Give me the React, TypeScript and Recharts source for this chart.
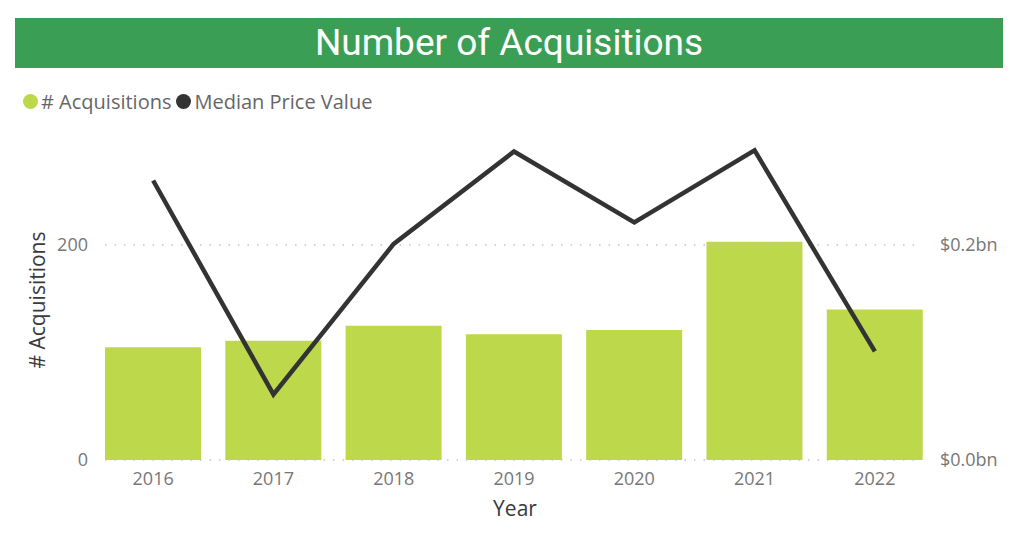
import React from "react";
import { ComposedChart, Bar, Line, XAxis, YAxis, ReferenceLine } from "recharts";

const years = ["2016", "2017", "2018", "2019", "2020", "2021", "2022"];
const acquisitions = [105, 111, 125, 117, 121, 203, 140];
const medianPrice = [0.26, 0.061, 0.201, 0.287, 0.221, 0.288, 0.101];
const leftTicks = [0, 200];
const rightTicks = [0, 0.2];

const data = years.map((y, i) => ({ year: y, acq: acquisitions[i], price: medianPrice[i] }));

const tickStyle = { fill: "#777777", fontSize: 18, fontFamily: "'Open Sans', sans-serif" };

const GridShape = (props: any) => {
  const { x1, x2, y1 } = props;
  return <line x1={x1 + 12} x2={x2 - 13} y1={y1} y2={y1} stroke="#c4c4c4" strokeWidth={1.5} strokeDasharray="1.5 8" />;
};

export default function App() {
  return (
    <div style={{ position: "absolute", left: 0, top: 0, width: 1024, height: 555, background: "#fff", overflow: "hidden" }}>
      <div style={{ position: "absolute", left: 15, top: 18, width: 988, height: 50, background: "#3A9F55", color: "#fff", fontFamily: "Roboto, sans-serif", fontSize: 37, lineHeight: "50px", textAlign: "center" }}>
        Number of Acquisitions
      </div>
      <div style={{ position: "absolute", left: 23, top: 87, height: 28, display: "flex", alignItems: "center", fontFamily: "'Open Sans', sans-serif", fontSize: 20, color: "#666" }}>
        <span style={{ display: "inline-block", width: 15, height: 15, borderRadius: "50%", background: "#BED84B", marginRight: 3 }} />
        <span style={{ marginRight: 5 }}># Acquisitions</span>
        <span style={{ display: "inline-block", width: 15, height: 15, borderRadius: "50%", background: "#333333", marginRight: 3 }} />
        <span>Median Price Value</span>
      </div>
      <div style={{ position: "absolute", left: 37, top: 300, transform: "translate(-50%, -50%) rotate(-90deg)", fontFamily: "'Open Sans', sans-serif", fontSize: 21, fontWeight: 500, color: "#3a3a3a", whiteSpace: "nowrap" }}>
        # Acquisitions
      </div>
      <div style={{ position: "absolute", left: 515, top: 508, transform: "translate(-50%, -50%)", fontFamily: "'Open Sans', sans-serif", fontSize: 21, fontWeight: 500, color: "#3a3a3a", whiteSpace: "nowrap" }}>
        Year
      </div>
      <div style={{ position: "absolute", left: 0, top: 0 }}>
        <ComposedChart width={1024} height={555} data={data} margin={{ top: 137.5, right: 29, bottom: 55, left: 33 }} barCategoryGap="10%">
          <XAxis dataKey="year" axisLine={false} tickLine={false} tick={tickStyle} tickMargin={6} height={40} />
          <YAxis yAxisId="left" domain={[0, 300]} ticks={leftTicks} axisLine={false} tickLine={false} tick={tickStyle} tickSize={0} tickMargin={5} width={60} interval={0} />
          <YAxis yAxisId="right" orientation="right" domain={[0, 0.3]} ticks={rightTicks} axisLine={false} tickLine={false} tick={tickStyle} tickSize={0} tickMargin={5} width={60} tickFormatter={(v: number) => `$${v.toFixed(1)}bn`} interval={0} />
          {leftTicks.map((t) => (
            <ReferenceLine key={t} yAxisId="left" y={t} shape={GridShape} />
          ))}
          <Bar yAxisId="left" dataKey="acq" fill="#BED84B" isAnimationActive={false} />
          <Line yAxisId="right" dataKey="price" stroke="#333333" strokeWidth={4.5} dot={false} isAnimationActive={false} />
        </ComposedChart>
      </div>
    </div>
  );
}
